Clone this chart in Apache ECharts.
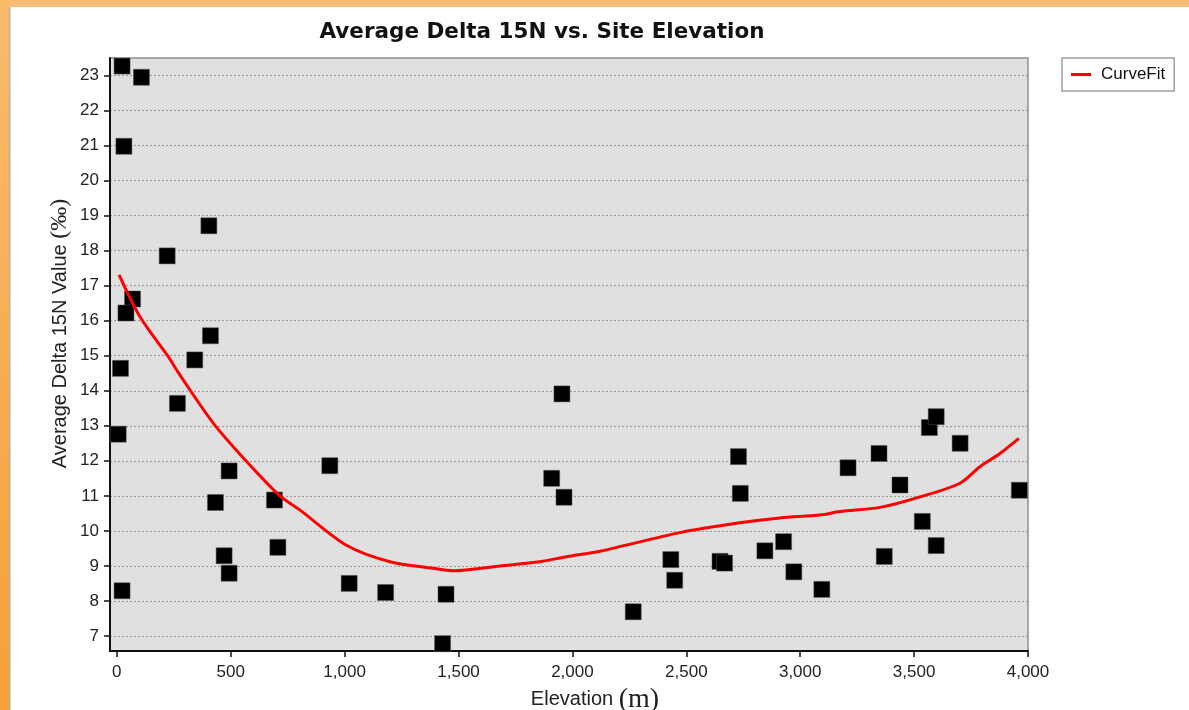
<!DOCTYPE html>
<html>
<head>
<meta charset="utf-8">
<script src="https://cdn.jsdelivr.net/npm/echarts@6/dist/echarts.min.js"></script>
<style>
html,body{margin:0;padding:0;background:#fff;}
#chart{width:1189px;height:710px;}
</style>
</head>
<body>
<div id="chart"></div>
<script>
// Scatter observations: elevation (m) and average delta 15N (‰)
const elevation = [23,108,31,221,404,69,40,411,342,16,266,6,493,433,692,707,471,493,23,
  935,1020,1180,1445,1430,1909,1963,1954,2267,2432,2449,2648,2668,2729,2737,2845,2927,2972,3095,
  3210,3346,3369,3438,3536,3567,3597,3597,3702,3962];
const delta15N = [23.27,22.95,20.98,17.85,18.71,16.62,16.22,15.57,14.88,14.64,13.64,12.76,11.71,10.81,10.88,9.53,9.29,8.79,8.29,
  11.86,8.50,8.24,8.19,6.78,11.50,10.96,13.91,7.69,9.18,8.59,9.13,9.08,12.12,11.07,9.43,9.69,8.83,8.33,
  11.80,12.21,9.27,11.31,10.27,12.95,13.26,9.58,12.50,11.16];
// Curve fit
const curveX = [10,101,225,262,291,430,591,716,803,1008,1199,1389,1477,1682,1857,1975,2121,2472,2735,2911,3087,3174,3350,3526,3701,3789,3877,3960];
const curveY = [17.31,16.12,14.98,14.6,14.31,13.02,11.83,11.0,10.6,9.59,9.12,8.93,8.86,9.0,9.12,9.26,9.42,9.95,10.23,10.37,10.45,10.55,10.67,10.97,11.36,11.83,12.21,12.64];
// Tick labels
const xTicks = [0,500,1000,1500,2000,2500,3000,3500,4000];
const yTicks = [7,8,9,10,11,12,13,14,15,16,17,18,19,20,21,22,23];

const chart = echarts.init(document.getElementById('chart'));
const sans = 'Liberation Sans, Arial, sans-serif';
chart.setOption({
  animation: false,
  backgroundColor: '#ffffff',
  graphic: [
    {type:'rect', shape:{x:0,y:0,width:1189,height:7}, style:{fill:'#fbbd74'}, z:-10},
    {type:'rect', shape:{x:0,y:0,width:9,height:710}, style:{fill:new echarts.graphic.LinearGradient(0,0,0,1,[{offset:0,color:'#fbba6c'},{offset:1,color:'#f7a035'}])}, z:-9},
    {type:'rect', shape:{x:9,y:7,width:1.5,height:703}, style:{fill:'#b0b0b0'}, z:-9}
  ],
  title: {
    text: 'Average Delta 15N vs. Site Elevation',
    left: 537, top: 16, textAlign: 'center',
    textStyle: {fontFamily: 'DejaVu Sans, sans-serif', fontWeight: 'bold', fontSize: 21.5, color: '#111'}
  },
  legend: {
    data: ['CurveFit'],
    left: 1062, top: 58,
    orient: 'vertical',
    padding: [8, 9, 8, 9],
    borderColor: '#a0a0a0', borderWidth: 1.5,
    icon: 'rect', itemWidth: 20, itemHeight: 3, itemGap: 0,
    textStyle: {fontFamily: sans, fontSize: 17, color: '#111', padding: [0, 0, 0, 5]}
  },
  grid: {
    left: 110, top: 58, right: 161, bottom: 59,
    outerBoundsMode: 'none', containLabel: false,
    show: true, backgroundColor: '#e0e0e0', borderColor: '#909090', borderWidth: 1.5
  },
  xAxis: {
    type: 'value', min: -30, max: 4000,
    name: '{a|Elevation }{b|(m)}',
    nameLocation: 'middle', nameGap: 26,
    nameTextStyle: {padding: [0, 0, 0, 52], rich: {
      a: {fontFamily: sans, fontSize: 20, color: '#222'},
      b: {fontFamily: 'Liberation Serif, serif', fontSize: 28, color: '#222'}
    }},
    axisLine: {show: true, onZero: false, lineStyle: {color: '#111', width: 2}},
    axisTick: {show: true, length: 6, customValues: xTicks, lineStyle: {color: '#111', width: 1.5}},
    axisLabel: {customValues: xTicks, fontFamily: sans, fontSize: 17, color: '#222', margin: 13,
      formatter: v => v.toLocaleString('en-US')},
    splitLine: {show: false}
  },
  yAxis: {
    type: 'value', min: 6.57, max: 23.5, interval: 1,
    name: '{a|Average Delta 15N Value }{b|(‰)}',
    nameLocation: 'middle', nameGap: 38, nameMoveOverlap: false,
    nameTextStyle: {padding: [0, 0, 0, 42], rich: {
      a: {fontFamily: sans, fontSize: 20, color: '#222'},
      b: {fontFamily: 'Liberation Serif, serif', fontSize: 24, color: '#222'}
    }},
    axisLine: {show: true, onZero: false, lineStyle: {color: '#111', width: 2}},
    axisTick: {show: true, length: 6, customValues: yTicks, lineStyle: {color: '#111', width: 1.5}},
    axisLabel: {customValues: yTicks, fontFamily: sans, fontSize: 17, color: '#222', margin: 11},
    splitLine: {show: true, lineStyle: {color: '#9a9a9a', type: [2, 2], width: 1.2}}
  },
  series: [
    {
      name: 'Observed', type: 'scatter',
      symbol: 'rect', symbolSize: 16,
      itemStyle: {color: '#000', borderColor: '#555', borderWidth: 0.5, opacity: 1},
      data: elevation.map((x, i) => [x, delta15N[i]]),
      z: 2
    },
    {
      name: 'CurveFit', type: 'line', smooth: 0.3,
      showSymbol: false, symbol: 'none',
      lineStyle: {color: '#ff0000', width: 3},
      itemStyle: {color: '#ff0000'},
      data: curveX.map((x, i) => [x, curveY[i]]),
      z: 3
    }
  ]
});
</script>
</body>
</html>
